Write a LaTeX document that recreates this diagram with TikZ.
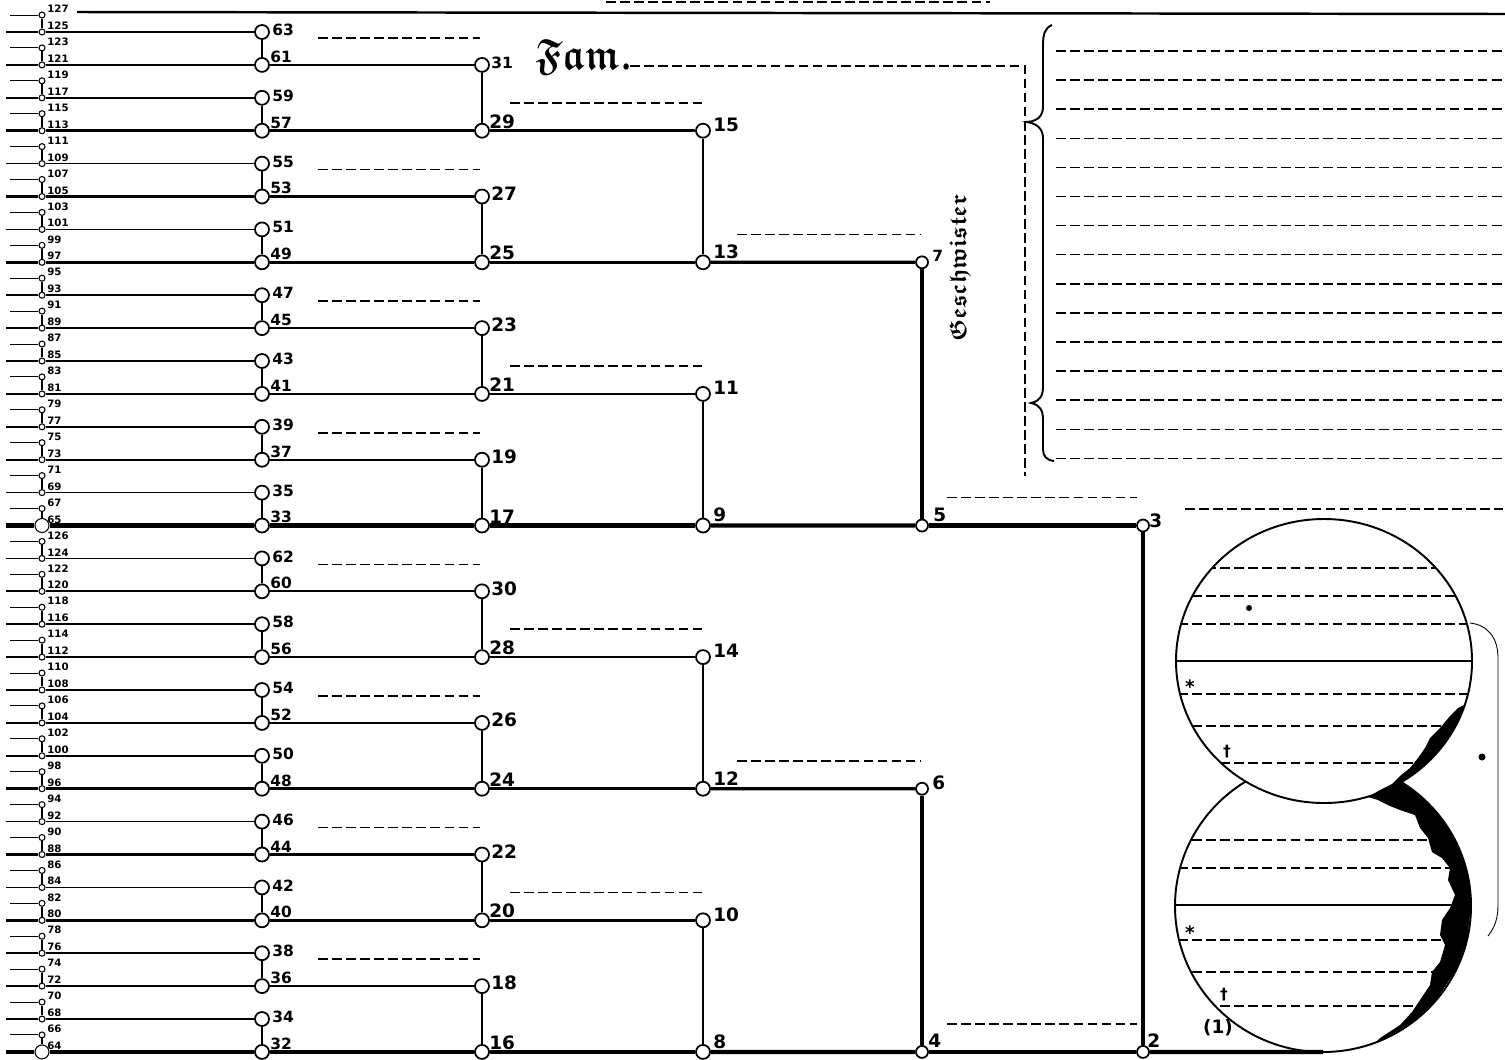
\documentclass[tikz,border=0pt]{standalone}
\usepackage{fontspec}
\usepackage{tikz}
\usetikzlibrary{positioning,calc}
\setsansfont{DejaVu Sans}
\newcommand{\frakwort}{\usefont{U}{euf}{b}{n}}

\begin{document}
\begin{tikzpicture}[x=0.2mm, y=-0.2mm,
  pers/.style={circle, draw, fill=white, line width=1pt, inner sep=0pt, minimum size=2.8mm},
  persk/.style={pers, minimum size=2.4mm},
  ahn/.style={circle, draw, fill=white, line width=0.6pt, inner sep=0pt},
  nr/.style={font=\sffamily\bfseries\fontsize{8.8}{9}\selectfont, inner sep=0pt},
  nrg/.style={font=\sffamily\bfseries\fontsize{10.5}{11}\selectfont, inner sep=0pt},
  nrk/.style={font=\sffamily\bfseries\fontsize{5.8}{6}\selectfont, inner sep=0pt},
  strich/.style={line width=0.9pt, dash pattern=on 5.5pt off 2.5pt},
  stumpf/.style={line width=0.5pt},
  senk/.style={line width=1pt}
]
\useasboundingbox (0,0) rectangle (1505,1059);

% KOPF
\draw[line width=1.4pt] (77,12) -- (1505,14);
\draw[strich, line width=0.6pt] (606,2) -- (990,2);

% AHNEN 32-127
\foreach \r in {0,...,31}{
  \pgfmathsetmacro\y{32+32.9*\r}
  \pgfmathtruncatemacro\n{\r<16 ? 63-2*\r : 94-2*\r}
  \pgfmathtruncatemacro\nA{isodd(\n) ? 2*\n+1 : 2*\n+2}
  \pgfmathtruncatemacro\nB{isodd(\n) ? 2*\n-1 : 2*\n}
  \pgfmathsetmacro\gr{(\r==15 || \r==31) ? 2.8 : 1.2}
  \pgfmathsetmacro\lw{(\r==15 || \r==31) ? 2.4 : (mod(\r,8)==7 ? 1.8 : (mod(\r,4)==3 ? 1.4 : (mod(\r,2)==1 ? 1.2 : 1.0)))}
  \node[ahn, minimum size=1.2mm] (p\nA) at (42,\y-17) {};
  \node[ahn, minimum size=\gr mm] (p\nB) at (42,\y) {};
  \node[nrk, anchor=west] (t\nA) at (47,\y-23) {\nA};
  \node[nrk, anchor=south west] (t\nB) at (47,\y-2) {\nB};
  \node[pers] (p\n) at (262,\y) {};
  \coordinate (a\nA) at (10,\y-17);
  \coordinate (a\nB) at (6,\y);
  \draw[stumpf] (a\nA) -- (p\nA);
  \draw[line width=0.9pt] (p\nA) -- (p\nB);
  \draw[line width=\lw pt] (a\nB) -- (p\nB) -- (p\n);
  \ifodd\r
    \node[nr, anchor=south west] (t\n) at (270,\y-2) {\n};
  \else
    \node[nr, anchor=west] (t\n) at (272,\y-2) {\n};
  \fi
}

% GENERATION 16-31
\foreach \r in {1,3,...,31}{
  \pgfmathsetmacro\y{32+32.9*\r}
  \pgfmathtruncatemacro\n{\r<16 ? 32-\r : 47-\r}
  \pgfmathtruncatemacro\nV{\r<16 ? 63-2*\r : 94-2*\r}
  \pgfmathtruncatemacro\nO{\nV+2}
  \pgfmathtruncatemacro\m{mod(\r,4)}
  \pgfmathsetmacro\lw{(\r==15 || \r==31) ? 2.4 : (mod(\r,8)==7 ? 1.8 : (mod(\r,4)==3 ? 1.4 : 1.2))}
  \node[pers] (p\n) at (482,\y) {};
  \draw[senk] (p\nO) -- (p\nV);
  \draw[line width=\lw pt] (p\nV) -- (p\n);
  \ifnum\m=1
    \ifnum\n=31
      \node[nr, anchor=west] (t\n) at (491,\y-2) {\n};
    \else
      \node[nrg, anchor=west] (t\n) at (491,\y-3) {\n};
    \fi
  \else
    \node[nrg, anchor=south west] (t\n) at (489,\y-2) {\n};
  \fi
}

% GENERATION 8-15
\foreach \r in {3,7,...,31}{
  \pgfmathsetmacro\y{32+32.9*\r}
  \pgfmathtruncatemacro\n{\r<16 ? (33-\r)/2 : (47-\r)/2}
  \pgfmathtruncatemacro\nV{\r<16 ? 32-\r : 47-\r}
  \pgfmathtruncatemacro\nO{\nV+2}
  \pgfmathtruncatemacro\m{mod(\r,8)}
  \pgfmathsetmacro\lw{(\r==15 || \r==31) ? 2.4 : (\m==7 ? 1.8 : 1.4)}
  \node[pers] (p\n) at (703,\y) {};
  \draw[senk] (p\nO) -- (p\nV);
  \draw[line width=\lw pt] (p\nV) -- (p\n);
  \ifnum\m=3
    \node[nrg, anchor=west] (t\n) at (713,\y-6) {\n};
  \else
    \node[nrg, anchor=south west] (t\n) at (713,\y-3) {\n};
  \fi
}

% GENERATION 4-7
\node[persk] (p7) at (922,262.3) {};
\node[persk] (p5) at (922,525.5) {};
\node[persk] (p6) at (922,788.7) {};
\node[persk] (p4) at (922,1051.9) {};
\node[nr, anchor=west] (t7) at (932,256) {7};
\node[nrg, anchor=south west] (t5) at (933,522) {5};
\node[nrg, anchor=west] (t6) at (932,783) {6};
\node[nrg, anchor=south west] (t4) at (928,1048) {4};
\draw[line width=1.3pt] (p15) -- (p13);
\draw[line width=1.3pt] (p11) -- (p9);
\draw[line width=1.3pt] (p14) -- (p12);
\draw[line width=1.3pt] (p10) -- (p8);
\draw[line width=1.8pt] (p13) -- (p7);
\draw[line width=2.4pt] (p9) -- (p5);
\draw[line width=1.8pt] (p12) -- (p6);
\draw[line width=2.4pt] (p8) -- (p4);

% GENERATION 2-3
\node[persk] (p3) at (1143,525.5) {};
\node[persk] (p2) at (1143,1051.9) {};
\node[nrg, anchor=west] (t3) at (1149,521) {3};
\node[nrg, anchor=south west] (t2) at (1147,1048) {2};
\draw[line width=1.9pt] (p7) -- (p5);
\draw[line width=1.9pt] (p6) -- (p4);
\draw[line width=2.3pt] (p3) -- (p2);
\draw[line width=2.4pt] (p5) -- (p3);
\draw[line width=2.4pt] (p4) -- (p2);
\coordinate (e1) at (1323,1052);
\draw[line width=2.4pt] (p2) -- (e1);

% SCHREIBLINIEN
\foreach \r in {0,4,8,12,16,20,24,28}
  \draw[strich] (318,{38+32.9*\r}) -- (480,{38+32.9*\r});
\foreach \r in {2,10,18,26}
  \draw[strich] (510,{37+32.9*\r}) -- (702,{37+32.9*\r});
\foreach \r in {6,22}
  \draw[strich] (737,{37+32.9*\r}) -- (920,{37+32.9*\r});
\foreach \r in {14,30}
  \draw[strich] (947,{37+32.9*\r}) -- (1137,{37+32.9*\r});
\draw[strich] (1185,509) -- (1503,509);

% FAM. UND GESCHWISTER
\node[anchor=west, inner sep=0pt, xscale=0.86] (famtext) at (535,57) {\fontsize{24.88}{25}\frakwort Fam.};
\draw[strich] (630,66) -- (1025,66) -- (1025,476);
\node[rotate=90, inner sep=0pt, scale=0.95] (gesch) at (960,268) {\fontsize{14.4}{15}\frakwort Geschwister};
\draw[line width=1.1pt] (1052,25) .. controls (1045,28) and (1043,34) .. (1043,45)
  -- (1043,106) .. controls (1043,116) and (1038,121) .. (1027,122)
  .. controls (1038,124) and (1043,129) .. (1043,139)
  -- (1043,386) .. controls (1043,396) and (1040,401) .. (1031,403)
  .. controls (1040,405) and (1043,410) .. (1043,420)
  -- (1043,449) .. controls (1043,456) and (1046,460) .. (1054,461);
\foreach \i in {0,...,14}
  \draw[strich] (1056,{51+29.1*\i}) -- (1505,{51+29.1*\i});

% KREISE
\draw[line width=1.1pt] (1323,906) ellipse [x radius=148, y radius=146];
\begin{scope}
  \clip (1323,906) ellipse [x radius=148, y radius=146];
  \foreach \yy in {840,868,940,972,1006}
    \draw[strich] (1150,\yy) -- (1500,\yy);
  \draw[line width=0.9pt] (1150,905) -- (1500,905);
\end{scope}
\draw[line width=1.1pt, fill=white] (1324,661) ellipse [x radius=148, y radius=142];
\begin{scope}
  \clip (1324,661) ellipse [x radius=148, y radius=142];
  \foreach \yy in {568,596,624,694,726,763}
    \draw[strich] (1150,\yy) -- (1500,\yy);
  \draw[line width=0.9pt] (1150,661) -- (1500,661);
\end{scope}
\node[nrg] (geb1) at (1190,687) {*};
\node[nr] (tod1) at (1227,752) {†};
\node[nrg] (geb2) at (1190,933) {*};
\node[nr] (tod2) at (1224,995) {†};
\node[nrg] (eins) at (1218,1028) {(1)};
\fill (1249,608) circle [radius=3];
\fill (1482,757) circle [radius=3.5];
\draw[line width=0.5pt] (1470,623) .. controls (1488,625) and (1498,638) .. (1498,658)
  -- (1498,905) .. controls (1498,918) and (1495,927) .. (1488,936);
\fill (1464,705) -- (1459,720) -- (1447,740) -- (1430,760) -- (1412,775)
  -- (1401,782) -- (1425,800) -- (1443,820) -- (1460,850) -- (1469,880)
  -- (1471,906) -- (1467,940) -- (1456,970) -- (1436,1000) -- (1415,1020)
  -- (1390,1036) -- (1375,1043) -- (1380,1038) -- (1400,1025) -- (1412,1012)
  -- (1420,1000) -- (1430,985) -- (1432,972) -- (1440,962) -- (1445,945)
  -- (1440,935) -- (1442,920) -- (1450,908) -- (1455,895) -- (1448,880)
  -- (1450,868) -- (1442,858) -- (1432,852) -- (1428,838) -- (1420,828)
  -- (1415,815) -- (1400,810) -- (1390,806) -- (1378,800) -- (1368,797)
  -- (1380,790) -- (1392,784) -- (1400,776) -- (1410,768) -- (1418,758)
  -- (1425,748) -- (1430,738) -- (1440,728) -- (1450,716) -- (1458,708) -- cycle;
\end{tikzpicture}
\end{document}
